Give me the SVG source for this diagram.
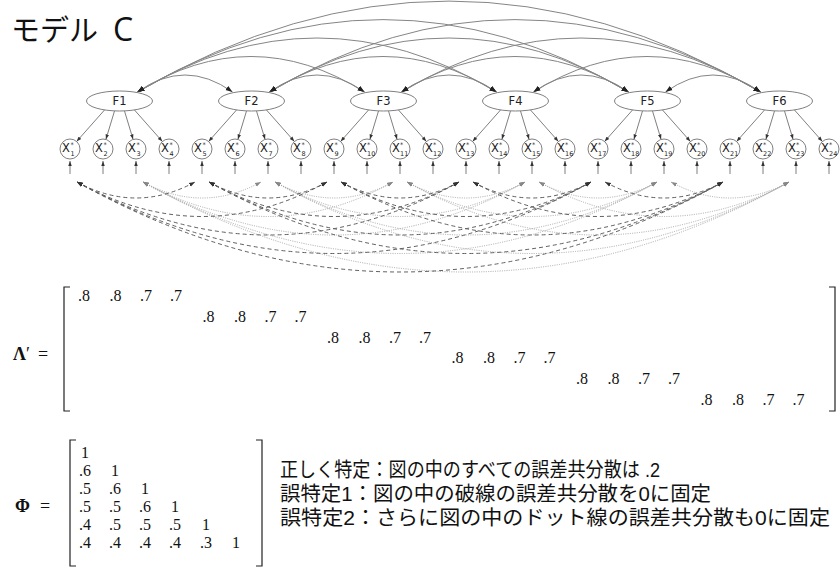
<svg xmlns="http://www.w3.org/2000/svg" xmlns:xlink="http://www.w3.org/1999/xlink" width="840" height="568" viewBox="0 0 840 568">
<style>
.fac ellipse{fill:#fff;stroke:#808080;stroke-width:1}
.fac text{font-family:"DejaVu Sans",sans-serif;font-size:11.5px;fill:#222;text-anchor:middle}
.itm circle{fill:#fff;stroke:#808080;stroke-width:1}
.itm text{font-family:"DejaVu Sans",sans-serif;font-size:11.5px;fill:#222}
.itm .s{font-size:6.5px}
.load{stroke:#707070;stroke-width:0.9;fill:none;marker-end:url(#ahs)}
.err{stroke:#707070;stroke-width:0.9;marker-end:url(#ahs)}
.fc{stroke:#858585;stroke-width:1;fill:none;marker-start:url(#ah);marker-end:url(#ah)}
.dash{stroke:#606060;stroke-width:1;fill:none;stroke-dasharray:4 3;marker-start:url(#ahd);marker-end:url(#ahd)}
.dot{stroke:#a8a8a8;stroke-width:1;fill:none;stroke-dasharray:1 1.3;marker-start:url(#aht);marker-end:url(#aht)}
.mat{font-family:"Liberation Serif",serif;font-size:16px;fill:#111}
.lbl{font-family:"Liberation Serif",serif;font-size:18px;fill:#111}
.jp{font-family:"Liberation Sans","Noto Sans CJK JP",sans-serif;font-size:20px;fill:#111}
.br{stroke:#222;stroke-width:1.2;fill:none}
</style>
<defs>
<marker id="ah" viewBox="0 0 10 10" refX="10" refY="5" markerWidth="7" markerHeight="7" markerUnits="userSpaceOnUse" orient="auto-start-reverse"><path d="M0,1.5L10,5L0,8.5z" fill="#222"/></marker>
<marker id="ahs" viewBox="0 0 10 10" refX="10" refY="5" markerWidth="5" markerHeight="5" markerUnits="userSpaceOnUse" orient="auto-start-reverse"><path d="M0,1.5L10,5L0,8.5z" fill="#333"/></marker>
<marker id="ahd" viewBox="0 0 10 10" refX="10" refY="5" markerWidth="6" markerHeight="6" markerUnits="userSpaceOnUse" orient="auto-start-reverse"><path d="M0,1.5L10,5L0,8.5z" fill="#333"/></marker>
<marker id="aht" viewBox="0 0 10 10" refX="10" refY="5" markerWidth="6" markerHeight="6" markerUnits="userSpaceOnUse" orient="auto-start-reverse"><path d="M0,1.5L10,5L0,8.5z" fill="#888"/></marker>
<g id="loadset">
<path class="load" d="M-15,110L-42.9,141.5"/>
<path class="load" d="M-5,111L-13.6,139.4"/>
<path class="load" d="M5,111L13.6,139.4"/>
<path class="load" d="M15,110L42.9,141.5"/>
</g>
</defs>
<rect width="840" height="568" fill="#fff"/>
<text id="title" x="11" y="41" style="font-family:'Noto Sans CJK JP',sans-serif;font-size:29px;fill:#111">モデル <tspan x="113" style="font-family:'Open Sans',sans-serif;font-size:32px">C</tspan></text>

<g id="connectors">
<g id="factor-covariances">
<path class="fc" d="M137.5,92Q185,58 232.5,92"/>
<path class="fc" d="M137.5,92Q251,21 364.5,92"/>
<path class="fc" d="M137.5,92Q317,-16 496.5,92"/>
<path class="fc" d="M137.5,92Q383,-52.8 628.5,92"/>
<path class="fc" d="M137.5,92Q449,-89.8 760.5,92"/>
<path class="fc" d="M269.5,92Q317,58 364.5,92"/>
<path class="fc" d="M269.5,92Q383,21 496.5,92"/>
<path class="fc" d="M269.5,92Q449,-16 628.5,92"/>
<path class="fc" d="M269.5,92Q515,-52.8 760.5,92"/>
<path class="fc" d="M401.5,92Q449,58 496.5,92"/>
<path class="fc" d="M401.5,92Q515,21 628.5,92"/>
<path class="fc" d="M401.5,92Q581,-16 760.5,92"/>
<path class="fc" d="M533.5,92Q581,58 628.5,92"/>
<path class="fc" d="M533.5,92Q647,21 760.5,92"/>
<path class="fc" d="M665.5,92Q713,58 760.5,92"/>
</g>
<g id="loadings">
<use xlink:href="#loadset" x="119.5"/>
<use xlink:href="#loadset" x="251.5"/>
<use xlink:href="#loadset" x="383.5"/>
<use xlink:href="#loadset" x="515.5"/>
<use xlink:href="#loadset" x="647.5"/>
<use xlink:href="#loadset" x="779.5"/>
</g>
<g id="errors">
<line class="err" x1="70" y1="174" x2="70" y2="161"/>
<line class="err" x1="103" y1="174" x2="103" y2="161"/>
<line class="err" x1="136" y1="174" x2="136" y2="161"/>
<line class="err" x1="169" y1="174" x2="169" y2="161"/>
<line class="err" x1="202" y1="174" x2="202" y2="161"/>
<line class="err" x1="235" y1="174" x2="235" y2="161"/>
<line class="err" x1="268" y1="174" x2="268" y2="161"/>
<line class="err" x1="301" y1="174" x2="301" y2="161"/>
<line class="err" x1="334" y1="174" x2="334" y2="161"/>
<line class="err" x1="367" y1="174" x2="367" y2="161"/>
<line class="err" x1="400" y1="174" x2="400" y2="161"/>
<line class="err" x1="433" y1="174" x2="433" y2="161"/>
<line class="err" x1="466" y1="174" x2="466" y2="161"/>
<line class="err" x1="499" y1="174" x2="499" y2="161"/>
<line class="err" x1="532" y1="174" x2="532" y2="161"/>
<line class="err" x1="565" y1="174" x2="565" y2="161"/>
<line class="err" x1="598" y1="174" x2="598" y2="161"/>
<line class="err" x1="631" y1="174" x2="631" y2="161"/>
<line class="err" x1="664" y1="174" x2="664" y2="161"/>
<line class="err" x1="697" y1="174" x2="697" y2="161"/>
<line class="err" x1="730" y1="174" x2="730" y2="161"/>
<line class="err" x1="763" y1="174" x2="763" y2="161"/>
<line class="err" x1="796" y1="174" x2="796" y2="161"/>
<line class="err" x1="829" y1="174" x2="829" y2="161"/>
</g>
<g id="error-covariances-dotted">
<path class="dot" d="M143,182Q202,214 261,182"/>
<path class="dot" d="M143,182Q268,251 393,182"/>
<path class="dot" d="M143,182Q334,288 525,182"/>
<path class="dot" d="M143,182Q400,325 657,182"/>
<path class="dot" d="M143,182Q466,362 789,182"/>
<path class="dot" d="M275,182Q334,214 393,182"/>
<path class="dot" d="M275,182Q400,251 525,182"/>
<path class="dot" d="M275,182Q466,288 657,182"/>
<path class="dot" d="M275,182Q532,325 789,182"/>
<path class="dot" d="M407,182Q466,214 525,182"/>
<path class="dot" d="M407,182Q532,251 657,182"/>
<path class="dot" d="M407,182Q598,288 789,182"/>
<path class="dot" d="M539,182Q598,214 657,182"/>
<path class="dot" d="M539,182Q664,251 789,182"/>
<path class="dot" d="M671,182Q730,214 789,182"/>
</g>
<g id="error-covariances-dashed">
<path class="dash" d="M77,182Q136,214 195,182"/>
<path class="dash" d="M77,182Q202,251 327,182"/>
<path class="dash" d="M77,182Q268,288 459,182"/>
<path class="dash" d="M77,182Q334,325 591,182"/>
<path class="dash" d="M77,182Q400,362 723,182"/>
<path class="dash" d="M209,182Q268,214 327,182"/>
<path class="dash" d="M209,182Q334,251 459,182"/>
<path class="dash" d="M209,182Q400,288 591,182"/>
<path class="dash" d="M209,182Q466,325 723,182"/>
<path class="dash" d="M341,182Q400,214 459,182"/>
<path class="dash" d="M341,182Q466,251 591,182"/>
<path class="dash" d="M341,182Q532,288 723,182"/>
<path class="dash" d="M473,182Q532,214 591,182"/>
<path class="dash" d="M473,182Q598,251 723,182"/>
<path class="dash" d="M605,182Q664,214 723,182"/>
</g>
</g>

<g id="F1" class="fac"><ellipse cx="119.5" cy="101" rx="33" ry="10"/><text x="119.5" y="105">F1</text></g>
<g id="F2" class="fac"><ellipse cx="251.5" cy="101" rx="33" ry="10"/><text x="251.5" y="105">F2</text></g>
<g id="F3" class="fac"><ellipse cx="383.5" cy="101" rx="33" ry="10"/><text x="383.5" y="105">F3</text></g>
<g id="F4" class="fac"><ellipse cx="515.5" cy="101" rx="33" ry="10"/><text x="515.5" y="105">F4</text></g>
<g id="F5" class="fac"><ellipse cx="647.5" cy="101" rx="33" ry="10"/><text x="647.5" y="105">F5</text></g>
<g id="F6" class="fac"><ellipse cx="779.5" cy="101" rx="33" ry="10"/><text x="779.5" y="105">F6</text></g>

<g id="X1" class="itm" transform="translate(70,149)"><circle r="10"/><text x="-8" y="3">X<tspan class="s" x="0.5" y="-2.5">*</tspan><tspan class="s" x="0.5" y="6.5">1</tspan></text></g>
<g id="X2" class="itm" transform="translate(103,149)"><circle r="10"/><text x="-8" y="3">X<tspan class="s" x="0.5" y="-2.5">*</tspan><tspan class="s" x="0.5" y="6.5">2</tspan></text></g>
<g id="X3" class="itm" transform="translate(136,149)"><circle r="10"/><text x="-8" y="3">X<tspan class="s" x="0.5" y="-2.5">*</tspan><tspan class="s" x="0.5" y="6.5">3</tspan></text></g>
<g id="X4" class="itm" transform="translate(169,149)"><circle r="10"/><text x="-8" y="3">X<tspan class="s" x="0.5" y="-2.5">*</tspan><tspan class="s" x="0.5" y="6.5">4</tspan></text></g>
<g id="X5" class="itm" transform="translate(202,149)"><circle r="10"/><text x="-8" y="3">X<tspan class="s" x="0.5" y="-2.5">*</tspan><tspan class="s" x="0.5" y="6.5">5</tspan></text></g>
<g id="X6" class="itm" transform="translate(235,149)"><circle r="10"/><text x="-8" y="3">X<tspan class="s" x="0.5" y="-2.5">*</tspan><tspan class="s" x="0.5" y="6.5">6</tspan></text></g>
<g id="X7" class="itm" transform="translate(268,149)"><circle r="10"/><text x="-8" y="3">X<tspan class="s" x="0.5" y="-2.5">*</tspan><tspan class="s" x="0.5" y="6.5">7</tspan></text></g>
<g id="X8" class="itm" transform="translate(301,149)"><circle r="10"/><text x="-8" y="3">X<tspan class="s" x="0.5" y="-2.5">*</tspan><tspan class="s" x="0.5" y="6.5">8</tspan></text></g>
<g id="X9" class="itm" transform="translate(334,149)"><circle r="10"/><text x="-8" y="3">X<tspan class="s" x="0.5" y="-2.5">*</tspan><tspan class="s" x="0.5" y="6.5">9</tspan></text></g>
<g id="X10" class="itm" transform="translate(367,149)"><circle r="10"/><text x="-8" y="3">X<tspan class="s" x="0" y="-2.5">*</tspan><tspan class="s" x="0" y="6.5">10</tspan></text></g>
<g id="X11" class="itm" transform="translate(400,149)"><circle r="10"/><text x="-8" y="3">X<tspan class="s" x="0" y="-2.5">*</tspan><tspan class="s" x="0" y="6.5">11</tspan></text></g>
<g id="X12" class="itm" transform="translate(433,149)"><circle r="10"/><text x="-8" y="3">X<tspan class="s" x="0" y="-2.5">*</tspan><tspan class="s" x="0" y="6.5">12</tspan></text></g>
<g id="X13" class="itm" transform="translate(466,149)"><circle r="10"/><text x="-8" y="3">X<tspan class="s" x="0" y="-2.5">*</tspan><tspan class="s" x="0" y="6.5">13</tspan></text></g>
<g id="X14" class="itm" transform="translate(499,149)"><circle r="10"/><text x="-8" y="3">X<tspan class="s" x="0" y="-2.5">*</tspan><tspan class="s" x="0" y="6.5">14</tspan></text></g>
<g id="X15" class="itm" transform="translate(532,149)"><circle r="10"/><text x="-8" y="3">X<tspan class="s" x="0" y="-2.5">*</tspan><tspan class="s" x="0" y="6.5">15</tspan></text></g>
<g id="X16" class="itm" transform="translate(565,149)"><circle r="10"/><text x="-8" y="3">X<tspan class="s" x="0" y="-2.5">*</tspan><tspan class="s" x="0" y="6.5">16</tspan></text></g>
<g id="X17" class="itm" transform="translate(598,149)"><circle r="10"/><text x="-8" y="3">X<tspan class="s" x="0" y="-2.5">*</tspan><tspan class="s" x="0" y="6.5">17</tspan></text></g>
<g id="X18" class="itm" transform="translate(631,149)"><circle r="10"/><text x="-8" y="3">X<tspan class="s" x="0" y="-2.5">*</tspan><tspan class="s" x="0" y="6.5">18</tspan></text></g>
<g id="X19" class="itm" transform="translate(664,149)"><circle r="10"/><text x="-8" y="3">X<tspan class="s" x="0" y="-2.5">*</tspan><tspan class="s" x="0" y="6.5">19</tspan></text></g>
<g id="X20" class="itm" transform="translate(697,149)"><circle r="10"/><text x="-8" y="3">X<tspan class="s" x="0" y="-2.5">*</tspan><tspan class="s" x="0" y="6.5">20</tspan></text></g>
<g id="X21" class="itm" transform="translate(730,149)"><circle r="10"/><text x="-8" y="3">X<tspan class="s" x="0" y="-2.5">*</tspan><tspan class="s" x="0" y="6.5">21</tspan></text></g>
<g id="X22" class="itm" transform="translate(763,149)"><circle r="10"/><text x="-8" y="3">X<tspan class="s" x="0" y="-2.5">*</tspan><tspan class="s" x="0" y="6.5">22</tspan></text></g>
<g id="X23" class="itm" transform="translate(796,149)"><circle r="10"/><text x="-8" y="3">X<tspan class="s" x="0" y="-2.5">*</tspan><tspan class="s" x="0" y="6.5">23</tspan></text></g>
<g id="X24" class="itm" transform="translate(829,149)"><circle r="10"/><text x="-8" y="3">X<tspan class="s" x="0" y="-2.5">*</tspan><tspan class="s" x="0" y="6.5">24</tspan></text></g>

<g id="lambda-matrix">
<text class="lbl" x="13" y="360"><tspan font-weight="bold">Λ</tspan>′<tspan x="38">=</tspan></text>
<path class="br" d="M70,287H64V411H70"/>
<path class="br" d="M829,287H835V411H829"/>
<text class="mat" y="301"><tspan x="78">.8</tspan><tspan x="109.5">.8</tspan><tspan x="140">.7</tspan><tspan x="170">.7</tspan></text>
<text class="mat" y="322"><tspan x="202.5">.8</tspan><tspan x="234">.8</tspan><tspan x="264.5">.7</tspan><tspan x="294.5">.7</tspan></text>
<text class="mat" y="343"><tspan x="327">.8</tspan><tspan x="358.5">.8</tspan><tspan x="389">.7</tspan><tspan x="419">.7</tspan></text>
<text class="mat" y="363"><tspan x="451.5">.8</tspan><tspan x="483">.8</tspan><tspan x="513.5">.7</tspan><tspan x="543.5">.7</tspan></text>
<text class="mat" y="384"><tspan x="576">.8</tspan><tspan x="607.5">.8</tspan><tspan x="638">.7</tspan><tspan x="668">.7</tspan></text>
<text class="mat" y="405"><tspan x="700.5">.8</tspan><tspan x="732">.8</tspan><tspan x="762.5">.7</tspan><tspan x="792.5">.7</tspan></text>
</g>

<g id="phi-matrix">
<text class="lbl" x="15" y="512"><tspan font-weight="bold">Φ</tspan><tspan x="40">=</tspan></text>
<path class="br" d="M76,440H70V566H76"/>
<path class="br" d="M256,440H262V566H256"/>
<g text-anchor="middle">
<text class="mat" y="458"><tspan x="85">1</tspan></text>
<text class="mat" y="476"><tspan x="85">.6</tspan><tspan x="115">1</tspan></text>
<text class="mat" y="494"><tspan x="85">.5</tspan><tspan x="115">.6</tspan><tspan x="145">1</tspan></text>
<text class="mat" y="512"><tspan x="85">.5</tspan><tspan x="115">.5</tspan><tspan x="145">.6</tspan><tspan x="175">1</tspan></text>
<text class="mat" y="530"><tspan x="85">.4</tspan><tspan x="115">.5</tspan><tspan x="145">.5</tspan><tspan x="175">.5</tspan><tspan x="206">1</tspan></text>
<text class="mat" y="548"><tspan x="85">.4</tspan><tspan x="115">.4</tspan><tspan x="145">.4</tspan><tspan x="175">.4</tspan><tspan x="206">.3</tspan><tspan x="236">1</tspan></text>
</g>
</g>

<g id="notes">
<text class="jp" x="280" y="477" textLength="380" lengthAdjust="spacingAndGlyphs">正しく特定：図の中のすべての誤差共分散は .2</text>
<text class="jp" x="280" y="501" textLength="431" lengthAdjust="spacingAndGlyphs">誤特定1：図の中の破線の誤差共分散を0に固定</text>
<text class="jp" x="280" y="525" textLength="550" lengthAdjust="spacingAndGlyphs">誤特定2：さらに図の中のドット線の誤差共分散も0に固定</text>
</g>
</svg>
